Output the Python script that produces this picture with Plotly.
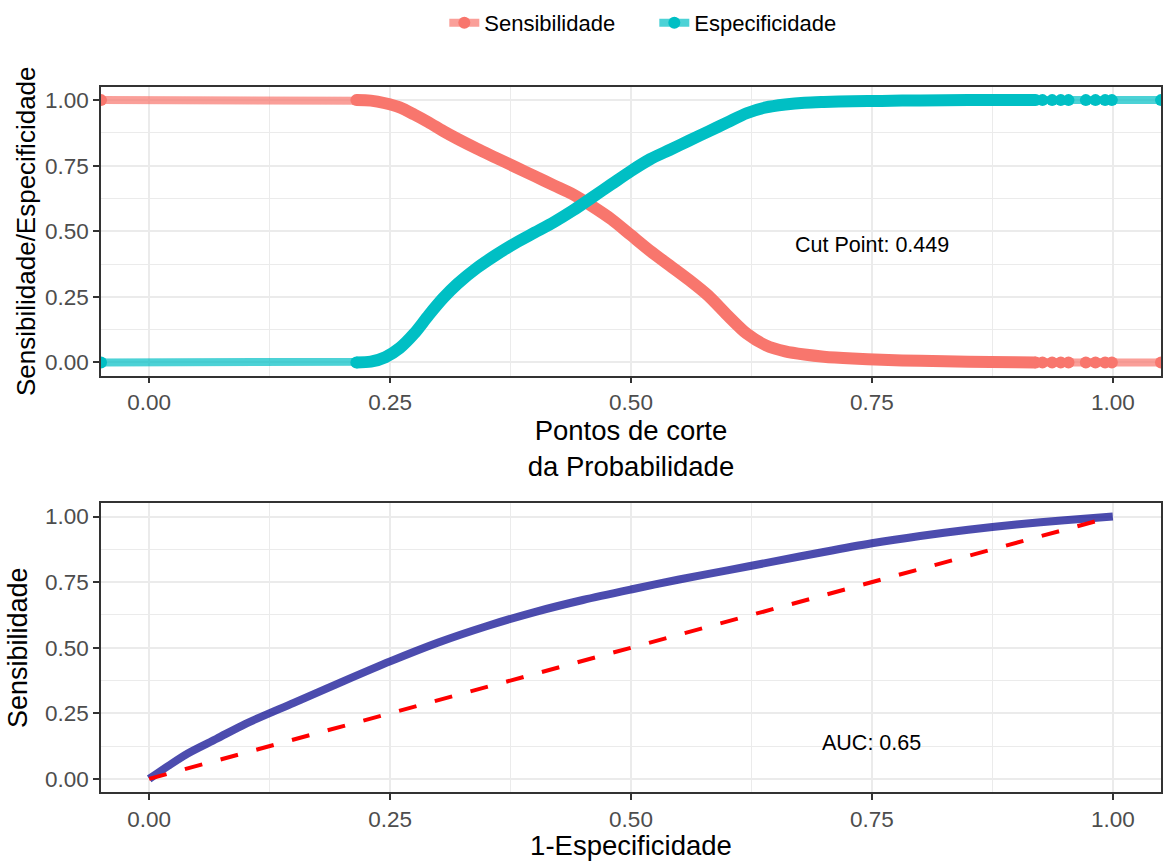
import plotly.graph_objects as go
from plotly.subplots import make_subplots

# ---- data (top panel): cut points vs sensitivity / specificity ----
# -0.05 and 1.05 stand for the -Inf / +Inf cut points drawn at the panel edges
cut = [-0.05, 0.215, 0.23, 0.245, 0.26, 0.275, 0.29, 0.305, 0.32, 0.34,
       0.36, 0.38, 0.40, 0.42, 0.44, 0.46, 0.48, 0.50, 0.52, 0.54,
       0.56, 0.58, 0.60, 0.62, 0.64, 0.66, 0.68, 0.70, 0.73, 0.76,
       0.80, 0.85, 0.90, 0.92, 0.927, 0.937, 0.946, 0.954, 0.972, 0.982,
       0.992, 0.999, 1.05]
sens = [1.0, 1.0, 0.998, 0.988, 0.972, 0.945, 0.915, 0.882, 0.852, 0.815,
        0.78, 0.745, 0.71, 0.675, 0.64, 0.595, 0.545, 0.485, 0.425, 0.37,
        0.315, 0.255, 0.18, 0.11, 0.065, 0.042, 0.03, 0.022, 0.015, 0.01,
        0.006, 0.003, 0.001, 0.0, 0.0, 0.0, 0.0, 0.0, 0.0, 0.0,
        0.0, 0.0, 0.0]
spec = [0.0, 0.0, 0.003, 0.02, 0.055, 0.11, 0.18, 0.245, 0.30, 0.36,
        0.41, 0.455, 0.495, 0.535, 0.58, 0.63, 0.68, 0.73, 0.775, 0.81,
        0.845, 0.88, 0.915, 0.95, 0.972, 0.983, 0.99, 0.993, 0.996, 0.997,
        0.999, 1.0, 1.0, 1.0, 1.0, 1.0, 1.0, 1.0, 1.0, 1.0,
        1.0, 1.0, 1.0]
dense_lo, dense_hi = 0.215, 0.92
cut_point = 0.449

# ---- data (bottom panel): ROC curve ----
fpr = [0.0, 0.02, 0.04, 0.07, 0.10, 0.15, 0.20, 0.25, 0.30, 0.35,
       0.40, 0.45, 0.50, 0.55, 0.60, 0.65, 0.70, 0.75, 0.80, 0.85,
       0.90, 0.95, 1.0]
tpr = [0.0, 0.05, 0.097, 0.153, 0.21, 0.29, 0.37, 0.448, 0.52, 0.582,
       0.636, 0.682, 0.722, 0.76, 0.795, 0.83, 0.865, 0.898, 0.926, 0.95,
       0.97, 0.986, 1.0]
auc = 0.65

tick_vals = [0, 0.25, 0.5, 0.75, 1.0]
tick_text = ["0.00", "0.25", "0.50", "0.75", "1.00"]

RED = "#F8766D"
CYAN = "#00BFC4"
RED_A = "rgba(248,118,109,0.7)"
CYAN_A = "rgba(0,191,196,0.7)"
FONT = "Arial, Liberation Sans, sans-serif"

fig = make_subplots(rows=2, cols=1, vertical_spacing=0.0)

series = [("Sensibilidade", sens, RED, RED_A), ("Especificidade", spec, CYAN, CYAN_A)]

# light (alpha) connecting lines
for name, vals, col, cola in series:
    fig.add_trace(go.Scatter(x=cut, y=vals, mode="lines", line=dict(color=cola, width=8),
                             showlegend=False, hoverinfo="skip"), row=1, col=1)
# dense band of points
for name, vals, col, cola in series:
    xs = [c for c in cut if dense_lo <= c <= dense_hi]
    ys = [v for c, v in zip(cut, vals) if dense_lo <= c <= dense_hi]
    fig.add_trace(go.Scatter(x=xs, y=ys, mode="lines",
                             line=dict(color=col, width=12, shape="spline", smoothing=0.8),
                             showlegend=False, hoverinfo="skip"), row=1, col=1)
# individually visible points (outside the dense band)
for name, vals, col, cola in series:
    xs = [c for c in cut if c <= dense_lo or c >= dense_hi]
    ys = [v for c, v in zip(cut, vals) if c <= dense_lo or c >= dense_hi]
    fig.add_trace(go.Scatter(x=xs, y=ys, mode="markers", marker=dict(color=col, size=12),
                             showlegend=False), row=1, col=1)
# legend entries
for name, vals, col, cola in series:
    fig.add_trace(go.Scatter(x=[None], y=[None], mode="lines+markers", name=name,
                             line=dict(color=cola, width=8), marker=dict(color=col, size=12)),
                  row=1, col=1)

# ROC curve
fig.add_trace(go.Scatter(x=fpr, y=tpr, mode="lines",
                         line=dict(color="rgba(0,0,139,0.7)", width=8, shape="spline", smoothing=0.8),
                         showlegend=False), row=2, col=1)
fig.add_trace(go.Scatter(x=[0, 1], y=[0, 1], mode="lines",
                         line=dict(color="red", width=4, dash="18px,19px"),
                         showlegend=False), row=2, col=1)

fig.add_annotation(x=0.75, y=0.447, xref="x", yref="y", text="Cut Point: " + str(cut_point),
                   showarrow=False, font=dict(size=21.5, color="black", family=FONT))
fig.add_annotation(x=0.75, y=0.137, xref="x2", yref="y2", text="AUC: " + str(auc),
                   showarrow=False, font=dict(size=21.5, color="black", family=FONT))

axis_common = dict(range=[-0.05, 1.05], tickvals=tick_vals, ticktext=tick_text,
                   showgrid=True, gridcolor="#EBEBEB", gridwidth=2,
                   minor=dict(tick0=0.125, dtick=0.25, showgrid=True, gridcolor="#EBEBEB",
                              gridwidth=1, ticklen=0),
                   showline=True, mirror=True, linecolor="#333333", linewidth=1.5,
                   ticks="outside", ticklen=6, tickwidth=1.5, tickcolor="#333333",
                   tickfont=dict(size=22.5, color="#4D4D4D", family=FONT),
                   zeroline=False)

fig.update_xaxes(**axis_common)
fig.update_yaxes(**axis_common)

TITLE_FONT = dict(size=27.5, color="black", family=FONT)
fig.update_xaxes(title=dict(text="Pontos de corte<br>da Probabilidade", font=TITLE_FONT, standoff=6),
                 row=1, col=1)
fig.update_xaxes(title=dict(text="1-Especificidade", font=TITLE_FONT, standoff=4),
                 row=2, col=1)
fig.update_yaxes(title=dict(text="Sensibilidade/Especificidade", font=dict(size=26, color="black", family=FONT),
                            standoff=2), row=1, col=1)
fig.update_yaxes(title=dict(text="Sensibilidade", font=dict(size=27, color="black", family=FONT),
                            standoff=10), row=2, col=1)

fig.update_layout(
    width=1165, height=861,
    margin=dict(l=101, r=2, t=86, b=69),
    paper_bgcolor="white", plot_bgcolor="white",
    font=dict(family=FONT),
    xaxis=dict(domain=[0, 1]), yaxis=dict(domain=[0.5907, 1.0]),
    xaxis2=dict(domain=[0, 1]), yaxis2=dict(domain=[0.0, 0.4093]),
    legend=dict(orientation="h", x=0.522, xanchor="center", y=1.091, yanchor="middle",
                font=dict(size=22, color="black", family=FONT),
                entrywidth=165, bgcolor="rgba(0,0,0,0)"),
    showlegend=True,
)

fig.write_html("out.html")
